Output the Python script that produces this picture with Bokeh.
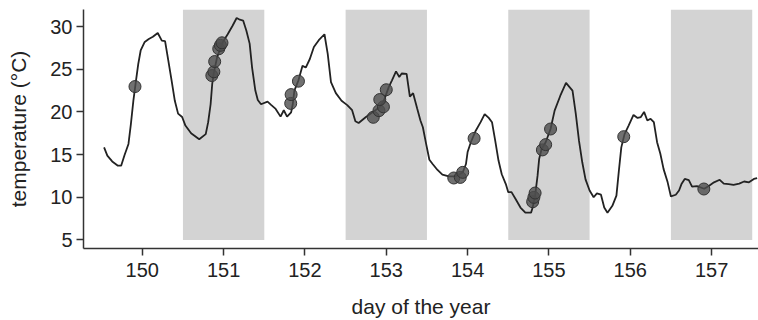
from bokeh.plotting import figure
from bokeh.models import FixedTicker, Range1d
from bokeh.embed import file_html
from bokeh.resources import INLINE

# temperature trace (day of year, °C)
line_day = [149.53, 149.57, 149.63, 149.70, 149.74, 149.78, 149.83, 149.86, 149.89, 149.92,
            149.95, 149.98, 150.03, 150.08, 150.13, 150.19, 150.24, 150.28, 150.32, 150.36,
            150.40, 150.44, 150.49, 150.53, 150.60, 150.70, 150.78, 150.81, 150.84, 150.86,
            150.88, 150.92, 150.99, 151.05, 151.11, 151.16, 151.20, 151.24, 151.28, 151.32,
            151.35, 151.39, 151.42, 151.46, 151.54, 151.58, 151.64, 151.70, 151.74, 151.78,
            151.83, 151.85, 151.87, 151.92, 151.97, 152.01, 152.06, 152.11, 152.17, 152.24,
            152.28, 152.32, 152.38, 152.45, 152.52, 152.58, 152.62, 152.66, 152.75, 152.83,
            152.91, 152.97, 153.03, 153.07, 153.12, 153.16, 153.19, 153.25, 153.29, 153.33,
            153.38, 153.42, 153.45, 153.49, 153.53, 153.57, 153.63, 153.69, 153.77, 153.85,
            153.94, 153.98, 154.00, 154.04, 154.10, 154.16, 154.21, 154.26, 154.30, 154.34,
            154.38, 154.42, 154.47, 154.50, 154.54, 154.59, 154.65, 154.71, 154.78, 154.80,
            154.83, 154.86, 154.88, 154.91, 154.96, 155.02, 155.07, 155.14, 155.21, 155.29,
            155.33, 155.37, 155.41, 155.45, 155.50, 155.55, 155.59, 155.64, 155.68, 155.72,
            155.78, 155.83, 155.86, 155.89, 155.93, 155.98, 156.04, 156.09, 156.13, 156.17,
            156.21, 156.25, 156.29, 156.33, 156.37, 156.41, 156.46, 156.50, 156.56, 156.60,
            156.63, 156.67, 156.72, 156.76, 156.82, 156.91, 156.97, 157.03, 157.10, 157.15,
            157.21, 157.27, 157.34, 157.40, 157.46, 157.52, 157.56]
line_temp = [15.85, 14.88, 14.2, 13.7, 13.7, 14.9, 16.25, 18.6, 21.3, 23.5,
             25.6, 27.2, 28.2, 28.55, 28.8, 29.25, 28.35, 28.3, 26.0, 23.7,
             21.3, 19.8, 19.4, 18.4, 17.5, 16.8, 17.4, 18.8, 20.9, 23.3,
             24.6, 26.4, 28.2, 29.1, 30.1, 31.0, 30.8, 30.7, 29.5, 28.0,
             25.2, 22.5, 21.4, 20.9, 21.2, 20.85, 20.35, 19.45, 20.2, 19.45,
             19.95, 20.9, 22.5, 23.7, 25.4, 25.2, 26.2, 27.6, 28.4, 29.1,
             26.8, 23.5, 22.2, 21.3, 20.8, 20.2, 18.9, 18.7, 19.4, 19.95,
             20.5, 21.3, 22.9, 23.7, 24.75, 24.1, 24.5, 24.45, 21.8, 22.2,
             20.4, 19.0, 18.2, 16.25, 14.4, 13.9, 13.2, 12.65, 12.45, 12.45,
             12.9, 13.9, 15.3, 16.45, 17.8, 18.8, 19.75, 19.3, 18.8, 16.6,
             14.3, 12.7, 11.55, 10.6, 10.6, 9.8, 8.8, 8.2, 8.2, 8.8,
             10.2, 12.5, 14.5, 15.65, 16.45, 18.0, 20.15, 21.9, 23.4, 22.5,
             19.8, 16.6, 14.1, 12.1, 10.8, 10.0, 10.45, 10.3, 8.8, 8.2,
             9.0, 10.2, 13.1, 15.85, 17.4, 18.4, 19.65, 19.3, 19.4, 20.0,
             19.0, 19.2, 18.8, 16.45, 15.1, 13.3, 11.75, 10.1, 10.3, 10.8,
             11.55, 12.15, 12.0, 11.25, 11.3, 11.0, 11.35, 11.75, 12.05, 11.6,
             11.55, 11.45, 11.6, 11.85, 11.75, 12.15, 12.25]

# observations
obs_day = [149.91, 150.855, 150.88, 150.89, 150.94, 150.96, 150.98,
           151.825, 151.83, 151.92,
           152.84, 152.91, 152.965, 152.92, 153.00,
           153.83, 153.91, 153.94, 154.08,
           154.80, 154.815, 154.83, 154.92, 154.96, 155.02,
           155.92, 156.905]
obs_temp = [22.97, 24.26, 24.7, 25.9, 27.4, 27.8, 28.1,
            21.0, 22.03, 23.6,
            19.37, 20.15, 20.6, 21.45, 22.6,
            12.26, 12.33, 12.92, 16.9,
            9.48, 9.99, 10.5, 15.55, 16.17, 18.0,
            17.1, 10.97]

# shaded night bands
band_left = [150.5, 152.5, 154.5, 156.5]
band_right = [151.5, 153.5, 155.5, 157.5]
band_bottom = [5, 5, 5, 5]
band_top = [32, 32, 32, 32]

x_ticks = [150, 151, 152, 153, 154, 155, 156, 157]
y_ticks = [5, 10, 15, 20, 25, 30]

FONT = "Liberation Sans"
TXT = "#222222"

p = figure(width=758, height=320, output_backend="svg", toolbar_location=None,
           x_range=Range1d(149.277, 157.577), y_range=Range1d(4, 32),
           min_border_left=83, min_border_right=0, min_border_top=9, min_border_bottom=72)
p.outline_line_color = None
p.xgrid.visible = False
p.ygrid.visible = False

p.quad(left=band_left, right=band_right, bottom=band_bottom, top=band_top,
       fill_color="#d3d3d3", line_color=None)
p.line(line_day, line_temp, line_color="#222222", line_width=1.8)
p.scatter(obs_day, obs_temp, size=12, fill_color="#4d4d4d", fill_alpha=0.8,
          line_color="#333333", line_width=1)

for ax in (p.xaxis[0], p.yaxis[0]):
    ax.axis_line_color = "#333333"
    ax.axis_line_width = 1.5
    ax.major_tick_line_color = "#333333"
    ax.major_tick_line_width = 1.5
    ax.major_tick_out = 7
    ax.major_tick_in = 0
    ax.minor_tick_line_color = None
    ax.major_label_text_font = FONT
    ax.major_label_text_font_size = "20px"
    ax.major_label_text_color = TXT
    ax.axis_label_text_font = FONT
    ax.axis_label_text_font_size = "21px"
    ax.axis_label_text_font_style = "normal"
    ax.axis_label_text_color = TXT

p.xaxis.ticker = FixedTicker(ticks=x_ticks)
p.yaxis.ticker = FixedTicker(ticks=y_ticks)
p.xaxis.axis_label = "day of the year"
p.yaxis.axis_label = "temperature (°C)"
p.xaxis.major_label_standoff = 7
p.xaxis.axis_label_standoff = 15
p.yaxis.major_label_standoff = 4
p.yaxis.axis_label_standoff = 17

open("out.html", "w").write(file_html(p, INLINE))
